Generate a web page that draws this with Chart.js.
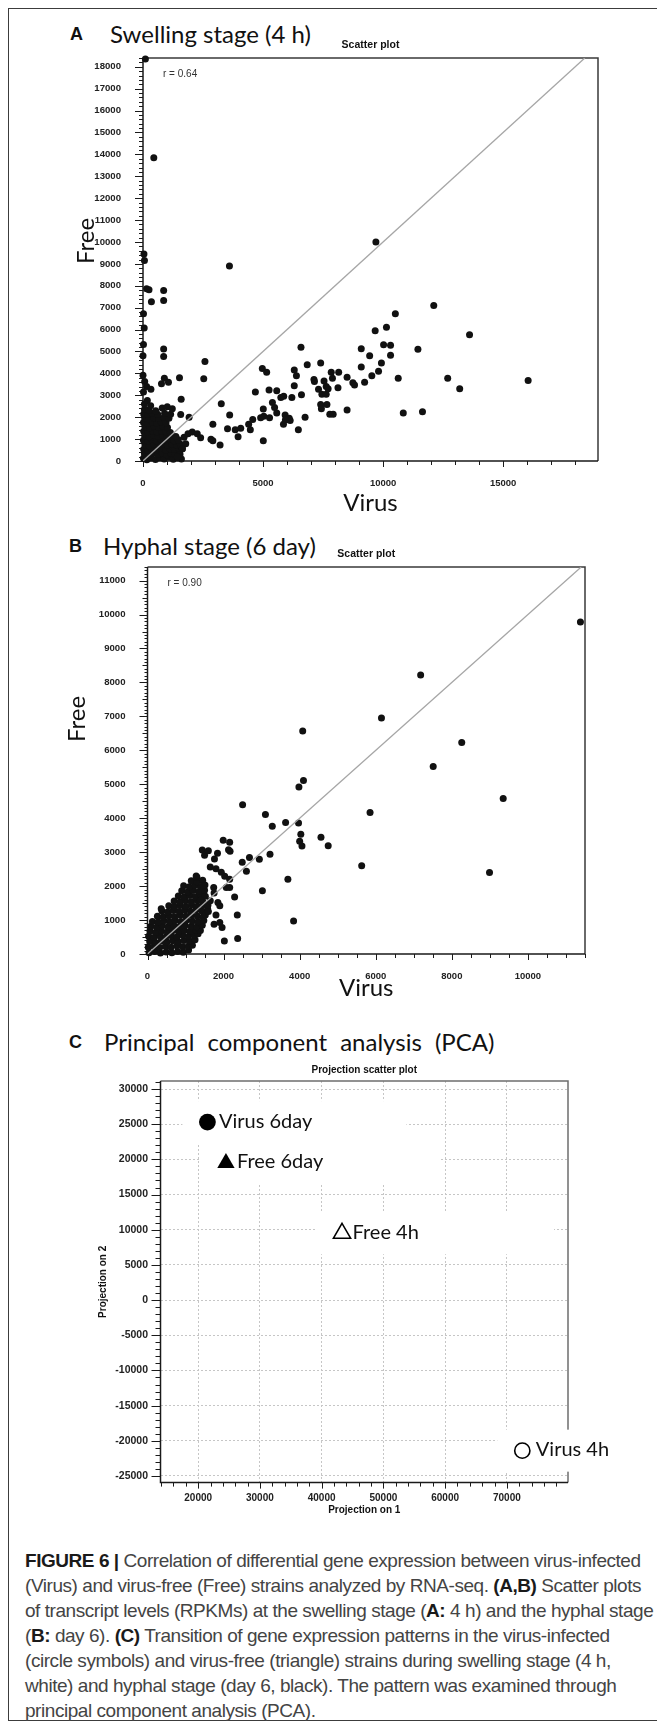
<!DOCTYPE html>
<html>
<head>
<meta charset="utf-8">
<script src="https://cdn.jsdelivr.net/npm/chart.js@4.4.1/dist/chart.umd.min.js"></script>
<style>
  html, body { margin: 0; padding: 0; background: #fff; }
  body { width: 657px; height: 1729px; position: relative; overflow: hidden; }
  #frame { position: absolute; left: 8px; top: 8px; width: 720px; height: 1713px; border: 1px solid #3c3c3c; box-sizing: border-box; }
  .tag { position: absolute; font: bold 18px 'Liberation Sans', Arial, sans-serif; line-height: 30px; color: #111; }
  .heading { position: absolute; font: 24px Lato, sans-serif; line-height: 30px; color: #111; white-space: nowrap; }
  canvas { position: absolute; left: 0; }
  .caption { position: absolute; left: 25px; font: 19px 'Liberation Sans', Arial, sans-serif; letter-spacing: -0.45px; line-height: 25px; color: #444; white-space: nowrap; }
  .caption b { color: #1a1a1a; }
</style>
</head>
<body>
<div id="frame"></div>

<div class="tag" style="left:70px;top:19px">A</div>
<div class="heading" style="left:110px;top:19px">Swelling stage (4 h)</div>
<div class="tag" style="left:69px;top:531px">B</div>
<div class="heading" style="left:103px;top:531px">Hyphal stage (6 day)</div>
<div class="tag" style="left:69px;top:1027px">C</div>
<div class="heading" style="left:104px;top:1027px;word-spacing:7px">Principal component analysis (PCA)</div>

<canvas id="swelling" width="657" height="520" style="top:0"></canvas>
<canvas id="hyphal" width="657" height="520" style="top:500px"></canvas>
<canvas id="pca" width="657" height="520" style="top:1000px"></canvas>

<div class="caption" style="top:1548px"><b>FIGURE 6 |</b> Correlation of differential gene expression between virus-infected</div>
<div class="caption" style="top:1573px">(Virus) and virus-free (Free) strains analyzed by RNA-seq. <b>(A,B)</b> Scatter plots</div>
<div class="caption" style="top:1598px">of transcript levels (RPKMs) at the swelling stage (<b>A:</b> 4 h) and the hyphal stage</div>
<div class="caption" style="top:1623px">(<b>B:</b> day 6). <b>(C)</b> Transition of gene expression patterns in the virus-infected</div>
<div class="caption" style="top:1648px">(circle symbols) and virus-free (triangle) strains during swelling stage (4 h,</div>
<div class="caption" style="top:1673px">white) and hyphal stage (day 6, black). The pattern was examined through</div>
<div class="caption" style="top:1698px">principal component analysis (PCA).</div>

<script>
(() => {
  'use strict'

  // Swelling stage (4 h): [Virus, Free] RPKM pairs
  const swellingCore = [
    [20, 120], [160, 60], [330, 140], [520, 70], [700, 150], [880, 90], [1080, 170], [1260, 80], [1440, 150], [1600, 90],
    [60, 330], [240, 280], [430, 350], [610, 300], [800, 360], [990, 290], [1170, 340], [1350, 300], [1530, 360],
    [30, 540], [190, 500], [380, 560], [570, 510], [760, 570], [950, 500], [1130, 560], [1310, 520], [1490, 580], [1640, 560],
    [80, 740], [260, 700], [450, 760], [640, 720], [830, 780], [1020, 720], [1210, 770], [1400, 730], [1560, 760],
    [20, 950], [200, 920], [380, 980], [560, 930], [750, 990], [940, 940], [1120, 980], [1300, 930], [1470, 970],
    [70, 1150], [250, 1110], [440, 1170], [630, 1130], [820, 1180], [1010, 1140], [1190, 1170], [1370, 1120],
    [30, 1360], [210, 1320], [400, 1380], [590, 1340], [780, 1370], [960, 1330], [1140, 1300],
    [80, 1560], [270, 1520], [460, 1580], [650, 1540], [840, 1570], [1020, 1530],
    [20, 1760], [190, 1720], [380, 1780], [570, 1740], [760, 1790], [960, 1750],
    [70, 1960], [250, 1920], [450, 1980], [650, 1940], [870, 1990], [1080, 1950],
    [30, 2150], [200, 2120], [380, 2180], [610, 2140], [900, 2180], [1150, 2140],
    [60, 2350], [240, 2320], [530, 2300], [800, 2420], [1010, 2480], [1220, 2380],
    [180, 2760], [320, 2520], [60, 2600], [20, 3150],
    [1710, 1090], [1875, 1240], [2050, 1320], [2260, 1240], [2400, 1060], [1780, 790],
    [1640, 560], [1540, 300], [1430, 180], [1570, 2120]
  ]
  const swellingSpread = [
    [100, 18350], [450, 13850], [9700, 10000], [3600, 8900],
    [40, 9450], [60, 9150], [150, 7860], [250, 7820], [860, 7790], [350, 7270], [860, 7330],
    [20, 6720], [50, 6070], [20, 5320], [0, 4810], [860, 5110], [860, 4770],
    [0, 3910], [70, 3630], [150, 3400], [330, 3280], [770, 3530], [890, 3780], [1060, 3590], [1520, 3800],
    [1590, 2820], [2580, 4540], [2530, 3760], [1920, 2000], [3260, 2610], [3610, 2100], [2910, 1680],
    [2830, 990], [2910, 920], [3210, 730], [3520, 1470], [3840, 1430], [4070, 1490], [3960, 1110],
    [4400, 1680], [4470, 1430], [4570, 1890], [4680, 3150], [4970, 4220], [5150, 4050], [5010, 2370],
    [5030, 2040], [4900, 1980], [5010, 920], [5250, 3240], [5570, 3210], [5270, 1970], [5390, 2670],
    [5480, 2440], [5570, 2190], [5740, 2900], [5860, 2960], [5920, 2100], [5990, 1910], [6090, 1950],
    [6130, 1850], [5850, 1680], [5930, 1870], [6200, 2900], [6300, 4160], [6390, 3890], [6300, 3440],
    [6470, 1430], [6580, 5190], [6600, 3020], [6750, 2000], [6840, 4390], [7120, 3720], [7140, 3630],
    [7400, 4470], [7310, 3280], [7450, 3050], [7400, 2580], [7430, 2390], [7540, 3650], [7630, 3400],
    [7630, 3050], [7710, 3300], [7660, 2580], [7780, 2140], [7920, 2140], [7840, 4050], [7890, 3780],
    [8120, 3340], [8150, 4050], [8500, 3820], [8500, 2330], [8740, 3570], [8810, 3470], [9090, 5130],
    [9090, 4290], [9230, 3590], [9440, 4810], [9530, 3890], [9670, 5950], [9810, 4100], [9930, 4480],
    [10020, 5310], [10140, 6110], [10310, 5290], [10310, 4830], [10510, 6720], [10630, 3780],
    [10840, 2190], [11450, 5100], [11640, 2250], [12110, 7100], [12690, 3780], [13190, 3300],
    [13600, 5760], [16040, 3680]
  ]
  const swellingDiagonal = [0, 18400]
  const swellingXTicks = [0, 5000, 10000, 15000]
  const swellingYTicks = [0, 1000, 2000, 3000, 4000, 5000, 6000, 7000, 8000, 9000,
    10000, 11000, 12000, 13000, 14000, 15000, 16000, 17000, 18000]

  // Hyphal stage (6 day): [Virus, Free] RPKM pairs
  const hyphalCore = [
    [40, 40], [190, 70], [340, 30], [490, 60], [640, 40], [790, 70], [940, 50], [1080, 120],
    [20, 200], [170, 220], [320, 190], [470, 230], [620, 200], [770, 240], [920, 210], [1070, 230], [1180, 260],
    [60, 370], [210, 340], [360, 380], [510, 350], [660, 390], [810, 360], [960, 400], [1110, 380], [1250, 420],
    [30, 520], [180, 490], [330, 530], [480, 500], [630, 540], [780, 510], [930, 550], [1080, 520], [1230, 560], [1330, 600],
    [70, 670], [220, 640], [370, 680], [520, 650], [670, 690], [820, 660], [970, 700], [1120, 670], [1270, 710], [1390, 690],
    [90, 820], [240, 790], [390, 830], [540, 800], [690, 840], [840, 810], [990, 850], [1150, 820], [1300, 800], [1440, 850],
    [130, 960], [280, 940], [430, 980], [580, 950], [730, 990], [880, 960], [1030, 1000], [1180, 970], [1330, 950], [1480, 990],
    [260, 1110], [410, 1090], [560, 1130], [710, 1100], [860, 1140], [1010, 1110], [1160, 1150], [1310, 1120], [1460, 1090],
    [380, 1270], [530, 1240], [680, 1280], [830, 1250], [980, 1290], [1130, 1260], [1280, 1300], [1430, 1270],
    [360, 1330], [560, 1420], [710, 1390], [860, 1430], [1010, 1400], [1160, 1440], [1310, 1410], [1460, 1450],
    [700, 1560], [850, 1530], [1000, 1570], [1150, 1540], [1300, 1580], [1450, 1550],
    [810, 1710], [960, 1680], [1110, 1720], [1260, 1690], [1410, 1730], [1520, 1700],
    [900, 1860], [1050, 1830], [1200, 1870], [1350, 1840], [1500, 1880],
    [950, 2010], [1100, 1980], [1250, 2020], [1400, 1990], [1510, 2030],
    [1150, 2160], [1300, 2130], [1450, 2170], [1300, 2260]
  ]
  const hyphalSpread = [
    [11380, 9780], [7180, 8220], [6150, 6950], [4080, 6570], [8260, 6230], [7510, 5520],
    [4100, 5110], [3980, 4920], [9350, 4580], [2500, 4400], [5850, 4170], [3100, 4110],
    [3280, 3760], [3630, 3870], [3970, 3860], [4030, 3530], [4000, 3320], [4060, 3180],
    [4560, 3440], [4750, 3190], [5630, 2600], [8990, 2400], [3220, 2940], [2940, 2790],
    [2680, 2840], [2490, 2700], [2600, 2440], [3690, 2200], [3020, 1860], [3840, 970],
    [2360, 1150], [2290, 1680], [2020, 380], [2370, 460], [2160, 3290], [2170, 3030],
    [2130, 3070], [1990, 3350], [1440, 3060], [1500, 2910], [1600, 3040], [1840, 2970],
    [1760, 2800], [1650, 2560], [1940, 2410], [1800, 2510], [2030, 2290], [2160, 2200],
    [2070, 1960], [2160, 1960], [1280, 2300], [1740, 1960], [1850, 1520], [1900, 1420],
    [1750, 880], [1900, 930], [1960, 780], [1800, 1150], [1580, 1340], [1520, 1150],
    [1390, 1580], [1470, 2020], [1590, 1440], [1650, 1570], [1750, 1800], [1600, 1250]
  ]
  const hyphalDiagonal = [0, 11400]
  const hyphalXTicks = [0, 2000, 4000, 6000, 8000, 10000]
  const hyphalYTicks = [0, 1000, 2000, 3000, 4000, 5000, 6000, 7000, 8000, 9000, 10000, 11000]

  // PCA projections
  const pcaLabels = ['Virus 6day', 'Free 6day', 'Free 4h', 'Virus 4h']
  const pcaProjection1 = [21500, 24500, 43300, 72500]
  const pcaProjection2 = [25300, 19500, 9500, -21400]
  const pcaXTicks = [20000, 30000, 40000, 50000, 60000, 70000]
  const pcaYTicks = [-25000, -20000, -15000, -10000, -5000, 0, 5000, 10000, 15000, 20000, 25000, 30000]

  const toPoints = pairs => pairs.map(([x, y]) => ({ x, y }))
  const plain = v => String(v)
  const tickFont = size => ({ family: "'Liberation Sans', Arial, sans-serif", size, weight: 'bold' })
  const fixedTicks = values => scale => { scale.ticks = values.map(value => ({ value })) }

  // box, tick marks, small headings and label boxes around each plot
  const panelDecor = {
    id: 'panelDecor',
    beforeDatasetsDraw(chart, args, opts) {
      const { ctx, chartArea: a } = chart
      ctx.save()
      ctx.lineWidth = 1.5
      ctx.strokeStyle = opts.frameColor
      ctx.beginPath()
      ctx.moveTo(a.left, a.top)
      ctx.lineTo(a.right, a.top)
      ctx.lineTo(a.right, a.bottom)
      ctx.stroke()
      ctx.strokeStyle = '#1a1a1a'
      ctx.beginPath()
      ctx.moveTo(a.left, a.top)
      ctx.lineTo(a.left, a.bottom)
      ctx.lineTo(a.right, a.bottom)
      ctx.stroke()

      ctx.lineWidth = 1
      opts.ticks.forEach(t => {
        const scale = chart.scales[t.axis]
        ctx.beginPath()
        for (let k = Math.ceil(scale.min / t.step); k * t.step <= scale.max; k++) {
          const p = Math.round(scale.getPixelForValue(k * t.step)) + 0.5
          if (t.axis === 'x') {
            ctx.moveTo(p, a.bottom)
            ctx.lineTo(p, a.bottom + t.len)
          } else {
            ctx.moveTo(a.left - t.len, p)
            ctx.lineTo(a.left, p)
          }
        }
        ctx.stroke()
      })

      ctx.fillStyle = '#111'
      ctx.font = opts.titleFont
      ctx.textAlign = 'center'
      ctx.textBaseline = 'middle'
      ctx.fillText(opts.title, (a.left + a.right) / 2, a.top - opts.titleGap)

      if (opts.note) {
        ctx.font = "10px 'Liberation Sans', Arial, sans-serif"
        ctx.fillStyle = '#333'
        ctx.textAlign = 'left'
        ctx.fillText(opts.note, a.left + 20, a.top + 16)
      }

      if (opts.yTitle) {
        ctx.save()
        ctx.translate(opts.yTitle.x, opts.yTitle.y)
        ctx.rotate(-Math.PI / 2)
        ctx.font = '24px Lato'
        ctx.fillStyle = '#111'
        ctx.textAlign = 'center'
        ctx.textBaseline = 'middle'
        ctx.fillText(opts.yTitle.text, 0, 0)
        ctx.restore()
      }

      // white label boxes sit over the grid and the right edge
      if (opts.labels) {
        const pts = chart.getDatasetMeta(0).data
        ctx.fillStyle = '#fff'
        pts.forEach((pt, i) => ctx.fillRect(pt.x - 25, pt.y - 21, opts.labels.boxWidths[i], 42))
      }
      ctx.restore()
    },
    afterDatasetsDraw(chart, args, opts) {
      if (!opts.labels) return
      const { ctx } = chart
      const pts = chart.getDatasetMeta(0).data
      ctx.save()
      ctx.font = '20px Lato'
      ctx.fillStyle = '#111'
      ctx.textAlign = 'left'
      ctx.textBaseline = 'middle'
      pts.forEach((pt, i) => ctx.fillText(opts.labels.text[i], pt.x + opts.labels.gaps[i], pt.y - 1))
      ctx.restore()
    }
  }

  function scatterPanel(el, core, spread, diagonal, cfg) {
    return new Chart(el, {
      type: 'scatter',
      plugins: [panelDecor],
      data: {
        datasets: [{
          type: 'line',
          data: [{ x: diagonal[0], y: diagonal[0] }, { x: diagonal[1], y: diagonal[1] }],
          borderColor: '#a6a6a6',
          borderWidth: 1.3,
          pointRadius: 0,
          order: 0,
        }, {
          data: toPoints(core.concat(spread)),
          pointRadius: 3.5,
          backgroundColor: '#111',
          borderWidth: 0,
          clip: false,
          order: 1,
        }]
      },
      options: {
        responsive: false,
        animation: false,
        devicePixelRatio: 1,
        events: [],
        layout: { padding: cfg.padding },
        plugins: {
          legend: { display: false },
          tooltip: { enabled: false },
          panelDecor: {
            frameColor: '#3a3a3a',
            title: 'Scatter plot',
            titleFont: "bold 10.5px 'Liberation Sans', Arial, sans-serif",
            titleGap: 13,
            note: cfg.note,
            yTitle: cfg.yTitle,
            ticks: cfg.ticks,
          },
        },
        scales: {
          x: {
            type: 'linear',
            bounds: 'data',
            min: 0,
            max: cfg.xMax,
            afterBuildTicks: fixedTicks(cfg.xTicks),
            afterFit: s => { s.height = cfg.xHeight },
            grid: { display: false },
            border: { display: false },
            ticks: { autoSkip: false, maxRotation: 0, padding: 8.5, color: '#222', font: tickFont(9.5), callback: plain },
            title: { display: true, text: 'Virus', color: '#111', font: { family: 'Lato', size: 24 }, padding: { top: 0, bottom: cfg.xTitlePad } },
          },
          y: {
            type: 'linear',
            bounds: 'data',
            min: 0,
            max: cfg.yMax,
            afterBuildTicks: fixedTicks(cfg.yTicks),
            afterFit: s => { s.width = cfg.yWidth },
            grid: { display: false },
            border: { display: false },
            ticks: { autoSkip: false, padding: 14, color: '#222', font: tickFont(9.6), callback: plain },
          },
        },
      }
    })
  }

  function draw() {
    Chart.defaults.font.family = "'Liberation Sans', Arial, sans-serif"

    scatterPanel(document.getElementById('swelling'), swellingCore, swellingSpread, swellingDiagonal, {
      padding: { left: 60, right: 59, top: 58, bottom: 0 },
      xMax: 18950, yMax: 18400,
      xTicks: swellingXTicks, yTicks: swellingYTicks,
      xHeight: 59, yWidth: 83, xTitlePad: 2.6,
      note: 'r = 0.64',
      yTitle: { text: 'Free', x: 86.5, y: 241 },
      ticks: [
        { axis: 'x', step: 5000, len: 6 }, { axis: 'x', step: 1000, len: 4 },
        { axis: 'y', step: 1000, len: 8 }, { axis: 'y', step: 200, len: 4 },
      ],
    })

    scatterPanel(document.getElementById('hyphal'), hyphalCore, hyphalSpread, hyphalDiagonal, {
      padding: { left: 60, right: 72, top: 67, bottom: 0 },
      xMax: 11500, yMax: 11400,
      xTicks: hyphalXTicks, yTicks: hyphalYTicks,
      xHeight: 66, yWidth: 87.5, xTitlePad: 17.6,
      note: 'r = 0.90',
      yTitle: { text: 'Free', x: 77.5, y: 219 },
      ticks: [
        { axis: 'x', step: 2000, len: 6 }, { axis: 'x', step: 500, len: 4 },
        { axis: 'y', step: 1000, len: 8 }, { axis: 'y', step: 500, len: 5 }, { axis: 'y', step: 100, len: 3 },
      ],
    })

    // PCA: circles = virus-infected, triangles = virus-free; black = day 6, white = 4 h
    new Chart(document.getElementById('pca'), {
      type: 'scatter',
      plugins: [panelDecor],
      data: {
        datasets: [{
          data: pcaProjection1.map((x, i) => ({ x, y: pcaProjection2[i] })),
          pointStyle: ['circle', 'triangle', 'triangle', 'circle'],
          pointRadius: [8.4, 10, 10, 7.6],
          backgroundColor: ['#000', '#000', '#fff', '#fff'],
          borderColor: '#000',
          borderWidth: [0, 0, 1.5, 1.6],
          clip: false,
        }]
      },
      options: {
        responsive: false,
        animation: false,
        devicePixelRatio: 1,
        events: [],
        layout: { padding: { left: 80, right: 89, top: 81, bottom: 0 } },
        plugins: {
          legend: { display: false },
          tooltip: { enabled: false },
          panelDecor: {
            frameColor: '#6e6e6e',
            title: 'Projection scatter plot',
            titleFont: "bold 10px 'Liberation Sans', Arial, sans-serif",
            titleGap: 11,
            labels: { text: pcaLabels, boxWidths: [224, 239, 237, 125], gaps: [11.5, 11, 10.5, 13.5] },
            ticks: [
              { axis: 'x', step: 10000, len: 6 }, { axis: 'x', step: 2000, len: 4 },
              { axis: 'y', step: 5000, len: 9 }, { axis: 'y', step: 1000, len: 5 },
            ],
          },
        },
        scales: {
          x: {
            type: 'linear',
            bounds: 'data',
            min: 13900,
            max: 79900,
            afterBuildTicks: fixedTicks(pcaXTicks),
            afterFit: s => { s.height = 37.4 },
            grid: { color: '#c6c6c6', lineWidth: 1, drawTicks: false },
            border: { display: false, dash: [2, 2] },
            ticks: { autoSkip: false, maxRotation: 0, padding: 9.9, color: '#222', font: tickFont(10), callback: plain },
            title: { display: true, text: 'Projection on 1', color: '#111', font: tickFont(10), padding: { top: 0, bottom: 4 } },
          },
          y: {
            type: 'linear',
            bounds: 'data',
            min: -25940,
            max: 31140,
            afterBuildTicks: fixedTicks(pcaYTicks),
            afterFit: s => { s.width = 80.5 },
            grid: { color: '#c6c6c6', lineWidth: 1, drawTicks: false },
            border: { display: false, dash: [2, 2] },
            ticks: { autoSkip: false, padding: 12.5, color: '#222', font: tickFont(10.5), callback: plain },
            title: { display: true, text: 'Projection on 2', color: '#111', font: tickFont(10), padding: { top: 17.5, bottom: 0 } },
          },
        },
      }
    })
  }

  Promise.all([
    document.fonts.load('24px Lato'),
    document.fonts.load("bold 10px 'Liberation Sans'"),
  ]).then(draw, draw)
})()
</script>
</body>
</html>
